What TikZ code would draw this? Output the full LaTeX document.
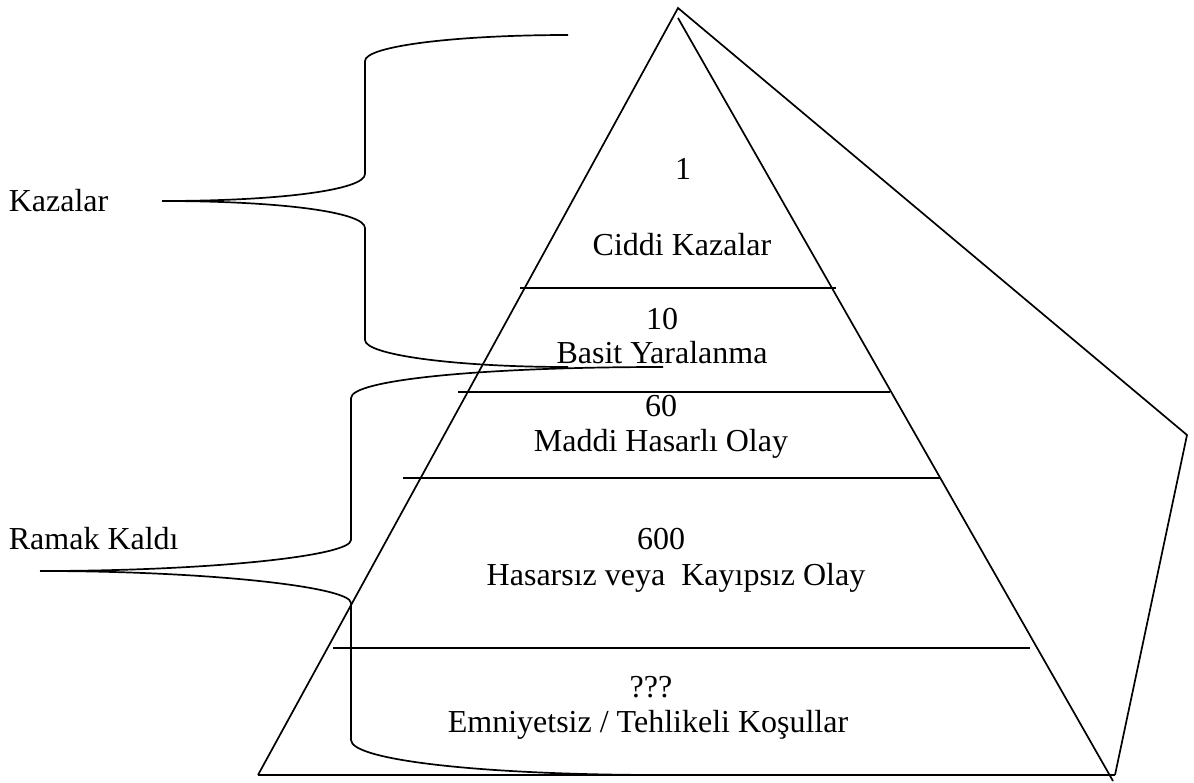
\documentclass[tikz,border=0pt]{standalone}
\usepackage{fontspec}
\setmainfont{Liberation Serif}
\begin{document}
\begin{tikzpicture}[x=1pt,y=-1pt,line width=1.7pt,
  lbl/.style={font=\fontsize{32}{36}\selectfont,inner sep=0pt,anchor=base}]
\useasboundingbox (0,0) rectangle (1194,782);

% pyramid outline
\coordinate (apex) at (678,8);
\coordinate (apexin) at (678,18);
\coordinate (bl) at (258,775);
\coordinate (br) at (1115,775);
\coordinate (rin) at (1113,781);
\coordinate (side) at (1187,435);
\draw (bl) -- (apex) -- (side) -- (br);
\draw (apexin) -- (rin);
\draw (bl) -- (br);

% level separators
\coordinate (s1l) at (520,288); \coordinate (s1r) at (836,288);
\coordinate (s2l) at (458,392); \coordinate (s2r) at (890,392);
\coordinate (s3l) at (403,478); \coordinate (s3r) at (940,478);
\coordinate (s4l) at (333,648); \coordinate (s4r) at (1030,648);
\draw (s1l) -- (s1r);
\draw (s2l) -- (s2r);
\draw (s3l) -- (s3r);
\draw (s4l) -- (s4r);

% level labels
\node[lbl] (n1)  at (683,179) {1};
\node[lbl] (t1)  at (682,255) {Ciddi Kazalar};
\node[lbl] (n2)  at (662,329) {10};
\node[lbl] (t2)  at (662,363) {Basit Yaralanma};
\node[lbl] (n3)  at (661,416) {60};
\node[lbl] (t3)  at (661,451) {Maddi Hasarlı Olay};
\node[lbl] (n4)  at (661,549) {600};
\node[lbl] (t4)  at (676,585) {Hasarsız veya \ Kayıpsız Olay};
\node[lbl] (n5)  at (651,697) {???};
\node[lbl] (t5)  at (648,732) {Emniyetsiz / Tehlikeli Koşullar};

% side labels
\node[lbl,anchor=base west] (kz) at (8,211) {Kazalar};
\node[lbl,anchor=base west] (rk) at (8,549) {Ramak Kaldı};

% brace for Kazalar
\coordinate (ktip) at (162,201);
\coordinate (ktop) at (568,35);
\coordinate (kbot) at (568,367);
\draw (ktip) .. controls (280,201) and (365,190) .. (365,174) -- (365,61)
      .. controls (365,46) and (456,35) .. (ktop);
\draw (ktip) .. controls (280,201) and (365,212) .. (365,228) -- (365,340)
      .. controls (365,355) and (456,367) .. (kbot);

% brace for Ramak Kaldi
\coordinate (rtip) at (40,571);
\coordinate (rtop) at (663,367);
\coordinate (rbot) at (663,775);
\draw (rtip) .. controls (210,571) and (351,556) .. (351,540) -- (351,398)
      .. controls (351,380) and (480,367) .. (rtop);
\draw (rtip) .. controls (210,571) and (351,587) .. (351,603) -- (351,740)
      .. controls (351,760) and (480,775) .. (rbot);
\end{tikzpicture}
\end{document}
